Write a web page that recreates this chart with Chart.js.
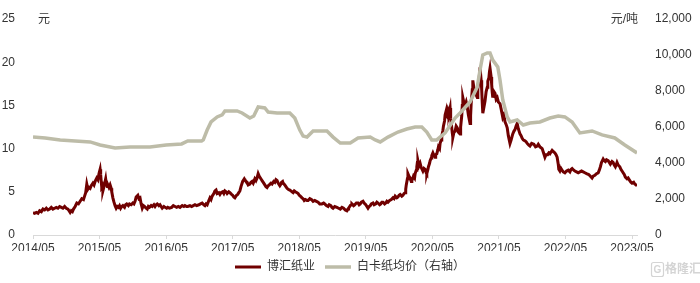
<!DOCTYPE html>
<html>
<head>
<meta charset="utf-8">
<script src="https://cdn.jsdelivr.net/npm/chart.js@4"></script>
<style>
  html, body { margin: 0; padding: 0; background: #fff; }
  #wrap { width: 700px; height: 283px; }
</style>
</head>
<body>
<div id="wrap"><canvas id="chart"></canvas></div>
<script>
// x is months since 2014/05
const xTickMonths = [0, 12, 24, 36, 48, 60, 72, 84, 96, 108];
const xTickLabels = ['2014/05', '2015/05', '2016/05', '2017/05', '2018/05', '2019/05', '2020/05', '2021/05', '2022/05', '2023/05'];

// 博汇纸业 share price (元)
const stockT = [
  0, 0.3, 0.6, 0.9, 1.2, 1.5, 1.8, 2.1, 2.4, 2.7, 3.0, 3.3, 3.6, 3.9, 4.2, 4.5, 4.8, 5.1, 5.4, 5.7, 6.0, 6.3, 6.5, 6.7, 6.9, 7.1, 7.3, 7.6, 7.9,
  8.2, 8.5, 8.8, 9.1, 9.3, 9.5, 9.7, 9.9, 10.1, 10.3, 10.5, 10.8, 11.0, 11.2, 11.5, 11.7, 11.9, 12.1, 12.2, 12.3, 12.4, 12.5, 12.6, 12.8, 12.9, 13.1, 13.2, 13.4, 13.5, 13.7, 13.9, 14.1, 14.2, 14.4, 14.6, 14.8, 15.0,
  15.2, 15.4, 15.6, 15.8, 16.0, 16.2, 16.5, 16.7, 16.9, 17.2, 17.4, 17.7, 18.0, 18.2, 18.4, 18.6, 18.9, 19.1, 19.3, 19.5, 19.7, 19.9, 20.1, 20.4, 20.6, 20.8, 21.0, 21.3, 21.5, 21.8,
  22.0, 22.2, 22.4, 22.7, 22.9, 23.1, 23.3, 23.6, 23.8, 24.1, 24.3, 24.6, 25.0, 25.3, 25.6, 25.9, 26.2, 26.5, 26.9, 27.2, 27.4, 27.7, 27.9, 28.3, 28.6, 28.9, 29.2, 29.5, 29.9, 30.2, 30.5, 30.8, 31.0, 31.2, 31.4,
  31.7, 31.9, 32.1, 32.3, 32.6, 32.8, 33.0, 33.2, 33.5, 33.7, 33.9, 34.2, 34.4, 34.6, 34.8, 35.0, 35.3, 35.5, 35.8, 36.0, 36.2, 36.4, 36.7, 36.9, 37.1, 37.3, 37.5, 37.6, 37.8, 37.9, 38.1, 38.2, 38.4, 38.6, 38.8,
  39.1, 39.3, 39.5, 39.7, 40.0, 40.2, 40.4, 40.6, 40.8, 41.0, 41.2, 41.3, 41.6, 41.8, 42.0, 42.2, 42.4, 42.6, 42.9, 43.1, 43.4, 43.6, 43.8, 44.0, 44.2, 44.5, 44.7, 44.8, 45.0, 45.1,
  45.4, 45.6, 45.8, 46.0, 46.3, 46.5, 46.7, 46.9, 47.1, 47.3, 47.6, 47.8, 48.0, 48.2, 48.5, 48.7, 48.9, 49.1, 49.4, 49.6, 49.9, 50.2, 50.5, 50.8, 51.1, 51.4, 51.7, 52.1, 52.4, 52.6,
  52.9, 53.2, 53.4, 53.7, 53.9, 54.1, 54.4, 54.8, 55.1, 55.4, 55.7, 56.0, 56.3, 56.6, 56.8, 56.9, 57.1, 57.2, 57.4, 57.5, 57.8, 58.0, 58.3, 58.6, 58.8, 59.0, 59.2, 59.5, 59.7, 60.0,
  60.2, 60.4, 60.6, 60.8, 61.0, 61.3, 61.5, 61.8, 62.0, 62.2, 62.5, 62.7, 62.9, 63.1, 63.4, 63.6, 63.8, 64.0, 64.3, 64.6, 64.9, 65.1, 65.3, 65.6, 65.8, 66.0, 66.2, 66.5, 66.7, 66.9, 67.1,
  67.2, 67.3, 67.5, 67.6, 67.8, 68.0, 68.2, 68.3, 68.5, 68.6, 68.8, 68.9, 69.1, 69.2, 69.3, 69.4, 69.6, 69.8, 70.0, 70.3, 70.5, 70.7, 70.9, 71.0, 71.2, 71.3, 71.5, 71.6, 71.8, 71.9, 72.1, 72.3, 72.5, 72.6, 72.8,
  73.0, 73.1, 73.3, 73.4, 73.6, 73.7, 73.9, 74.0, 74.2, 74.3, 74.5, 74.6, 74.8, 74.9, 75.0, 75.2, 75.3, 75.5, 75.6, 75.7, 75.9, 76.1, 76.3, 76.5, 76.7, 77.0,
  77.1, 77.3, 77.4, 77.5, 77.7, 77.9, 78.1, 78.3, 78.5, 78.8, 78.9, 79.0, 79.2, 79.3, 79.5, 79.7, 79.9, 80.1, 80.2, 80.4, 80.5, 80.6, 80.8, 80.9, 81.0, 81.1,
  81.3, 81.5, 81.7, 81.9, 82.0, 82.2, 82.3, 82.4, 82.6, 82.7, 82.8, 82.9, 83.1, 83.3, 83.5, 83.7, 83.9, 84.2, 84.4, 84.7, 84.9, 85.1, 85.3, 85.5, 85.7, 86.0,
  86.2, 86.5, 86.7, 86.9, 87.1, 87.3, 87.5, 87.8, 88.0, 88.2, 88.4, 88.7, 88.9, 89.1, 89.4, 89.6, 89.9, 90.3, 90.6, 90.9, 91.1, 91.4, 91.6, 91.8, 92.0, 92.3, 92.5, 92.8, 93.0, 93.2,
  93.4, 93.6, 93.9, 94.1, 94.3, 94.5, 94.7, 94.8, 95.0, 95.2, 95.4, 95.6, 95.9, 96.2, 96.5, 96.8, 97.0, 97.2, 97.5, 97.7, 98.0, 98.3, 98.6, 98.9, 99.2, 99.5, 99.8, 100.2, 100.5, 100.8,
  101.0, 101.3, 101.6, 101.9, 102.1, 102.3, 102.5, 102.8, 103.0, 103.2, 103.4, 103.7, 103.9, 104.1, 104.4, 104.6, 104.8, 105.0, 105.2, 105.3, 105.5, 105.8, 106.0, 106.2, 106.4, 106.6, 106.8, 107.1, 107.3, 107.6, 107.8, 108.0, 108.3, 108.5, 108.7, 108.9
];
const stockV = [
  2.6, 2.5, 2.6, 2.5, 2.8, 2.7, 3.0, 2.9, 3.1, 2.9, 3.0, 3.2, 3.0, 3.1, 3.2, 3.1, 3.3, 3.2, 3.1, 3.3, 3.1, 3.0, 2.8, 2.6, 2.8, 2.7, 3.0, 3.3, 3.7,
  3.6, 3.9, 4.2, 4.1, 4.5, 4.9, 5.9, 5.3, 5.5, 5.4, 5.7, 6.0, 5.8, 6.2, 6.6, 6.4, 7.1, 7.6, 7.0, 6.2, 5.5, 5.6, 5.1, 5.6, 5.9, 6.5, 6.0, 5.6, 5.8, 5.5, 5.8, 5.4, 5.0, 4.3, 3.8, 3.4, 3.1,
  3.3, 3.2, 3.4, 3.1, 3.3, 3.4, 3.2, 3.5, 3.6, 3.4, 3.6, 3.5, 3.7, 3.6, 3.9, 4.4, 4.6, 4.2, 4.3, 3.6, 3.1, 3.4, 3.3, 3.1, 3.0, 3.3, 3.2, 3.4, 3.3, 3.5,
  3.3, 3.5, 3.6, 3.4, 3.5, 3.3, 3.1, 3.3, 3.2, 3.1, 3.2, 3.1, 3.2, 3.4, 3.3, 3.2, 3.3, 3.2, 3.4, 3.3, 3.4, 3.3, 3.3, 3.4, 3.3, 3.4, 3.5, 3.4, 3.5, 3.6, 3.7, 3.5, 3.4, 3.6, 3.5,
  4.0, 4.3, 4.1, 4.5, 4.8, 5.1, 5.2, 4.8, 4.9, 4.7, 4.9, 5.0, 4.8, 5.1, 5.0, 4.8, 5.0, 4.9, 4.7, 4.6, 4.4, 4.3, 4.6, 4.7, 4.9, 5.1, 5.6, 5.8, 6.2, 6.3, 6.5, 6.4, 6.2, 6.1, 5.8,
  5.9, 6.1, 6.2, 6.0, 6.5, 6.3, 6.6, 7.1, 6.8, 6.6, 6.4, 6.3, 6.0, 5.8, 5.6, 5.5, 5.7, 5.8, 6.0, 5.9, 6.2, 6.1, 6.4, 6.3, 6.0, 5.7, 5.9, 6.1, 6.2, 6.0,
  5.8, 5.6, 5.4, 5.3, 5.2, 5.1, 5.0, 4.9, 5.1, 5.0, 4.9, 4.8, 4.6, 4.5, 4.3, 4.2, 4.0, 4.1, 4.0, 4.0, 4.2, 4.1, 3.9, 4.0, 3.9, 3.8, 3.6, 3.6, 3.7, 3.6,
  3.4, 3.3, 3.5, 3.4, 3.2, 3.1, 3.3, 3.2, 3.1, 3.0, 3.2, 3.1, 2.9, 2.8, 3.0, 3.1, 3.3, 3.4, 3.5, 3.6, 3.4, 3.5, 3.7, 3.7, 3.5, 3.6, 3.8, 3.9, 3.7, 3.5,
  3.3, 3.1, 3.3, 3.4, 3.6, 3.7, 3.5, 3.6, 3.8, 3.7, 3.5, 3.6, 3.8, 3.8, 3.6, 3.7, 3.9, 3.8, 4.0, 4.1, 4.3, 4.2, 4.5, 4.3, 4.4, 4.6, 4.7, 4.5, 4.6, 4.8, 4.9,
  5.3, 5.8, 6.5, 7.1, 6.8, 6.6, 6.2, 6.3, 6.6, 6.8, 6.6, 7.1, 7.5, 7.9, 8.4, 8.6, 8.0, 8.3, 7.8, 7.4, 7.7, 7.6, 7.2, 7.1, 7.6, 7.9, 8.3, 8.6, 8.9, 9.2, 9.5, 9.2, 9.0, 9.3, 9.4,
  9.9, 10.2, 10.0, 10.6, 11.0, 11.4, 12.1, 12.6, 13.2, 13.9, 14.4, 13.8, 13.6, 14.3, 14.1, 14.7, 13.5, 12.4, 11.8, 11.3, 11.9, 12.0, 12.6, 12.4, 11.9, 11.7,
  12.5, 13.8, 15.0, 15.9, 15.3, 15.0, 15.4, 14.8, 13.9, 12.9, 13.8, 15.2, 16.8, 17.9, 17.0, 16.5, 16.2, 15.9, 16.9, 17.8, 18.6, 19.4, 17.9, 16.8, 15.3, 14.1,
  14.8, 15.5, 16.6, 17.1, 17.8, 18.2, 18.9, 19.3, 18.3, 17.4, 16.5, 15.9, 16.6, 16.4, 15.7, 15.9, 15.4, 15.2, 14.6, 13.6, 13.9, 13.1, 12.8, 12.4, 11.5, 10.6,
  11.0, 11.7, 12.0, 12.2, 12.6, 12.9, 12.3, 11.7, 11.5, 11.2, 11.0, 10.9, 10.8, 10.6, 10.4, 10.3, 10.6, 10.5, 10.2, 10.3, 10.5, 10.2, 10.1, 10.0, 9.6, 9.0, 9.3, 9.3, 9.5, 9.4,
  9.6, 9.8, 9.6, 9.5, 9.3, 9.0, 8.2, 7.6, 7.4, 7.7, 7.5, 7.3, 7.2, 7.4, 7.5, 7.3, 7.6, 7.7, 7.5, 7.4, 7.3, 7.2, 7.3, 7.4, 7.3, 7.2, 7.1, 7.0, 6.8, 6.6,
  6.8, 6.9, 7.1, 7.2, 7.5, 7.9, 8.4, 8.8, 8.6, 8.5, 8.7, 8.6, 8.4, 8.2, 8.5, 8.4, 8.1, 7.9, 8.2, 8.4, 8.1, 7.9, 7.6, 7.4, 7.2, 7.0, 6.7, 6.5, 6.6, 6.3, 6.1, 6.0, 6.1, 5.9, 5.8, 5.7
];

// 白卡纸均价 (元/吨, right axis)
const paperT = [0, 2.2, 4.9, 7.6, 10.3, 12.1, 14.8, 17.5, 21.1, 24.0, 26.8, 27.9, 30.4, 30.7, 31.4, 32.1, 33.2, 34.1, 34.6, 36.8,
  37.7, 39.1, 39.8, 40.6, 41.8, 42.4, 44.0, 46.3, 47.2, 48.1, 48.7, 49.4, 50.5, 53.0, 54.1, 55.4, 57.2, 58.6, 60.8, 61.7,
  62.6, 64.0, 65.8, 67.4, 68.9, 70.1, 71.0, 71.9, 72.8, 74.3, 75.5, 76.1, 77.0, 78.8, 80.1, 80.6, 81.1, 81.9, 82.4, 82.9,
  83.8, 84.2, 84.7, 85.5, 86.0, 87.3, 88.4, 89.6, 91.4, 93.2, 94.7, 95.9, 97.2, 98.6, 100.8, 102.6, 104.9, 106.7, 108.9];
const paperV = [5450, 5390, 5280, 5220, 5170, 5000, 4830, 4890, 4890, 5000, 5060, 5220, 5220, 5280, 5830, 6280, 6560, 6670, 6890, 6890,
  6780, 6500, 6610, 7110, 7060, 6830, 6780, 6780, 6500, 5830, 5500, 5440, 5780, 5780, 5440, 5110, 5110, 5390, 5440, 5280,
  5170, 5440, 5720, 5890, 6000, 6000, 5720, 5280, 5280, 5670, 6220, 6500, 6780, 7390, 8220, 9170, 10000, 10110, 10110, 9720,
  9330, 8610, 7500, 6560, 6280, 6390, 6110, 6220, 6280, 6500, 6610, 6560, 6280, 5670, 5780, 5560, 5390, 5000, 4560];

const FONT = '"Liberation Sans", Arial, "Noto Sans CJK SC", sans-serif';
const TEXT = '#333333';

const unitLabels = {
  id: 'unitLabels',
  afterDraw(chart) {
    const ctx = chart.ctx;
    ctx.save();
    ctx.fillStyle = TEXT;
    ctx.font = '12px ' + FONT;
    ctx.textBaseline = 'middle';
    ctx.textAlign = 'left';
    ctx.fillText('元', 38, 20);
    ctx.textAlign = 'right';
    ctx.fillText('元/吨', 638, 20);

    // watermark
    ctx.strokeStyle = '#d4d4d4';
    ctx.fillStyle = '#d4d4d4';
    ctx.lineWidth = 1.2;
    ctx.beginPath();
    ctx.roundRect(651.5, 262.5, 12, 14, 2);
    ctx.stroke();
    ctx.font = 'bold 10px ' + FONT;
    ctx.textAlign = 'center';
    ctx.fillText('G', 657.5, 270);
    ctx.font = 'bold 12px ' + FONT;
    ctx.textAlign = 'left';
    ctx.fillText('格隆汇', 665, 270);
    ctx.restore();
  }
};

const ctx = document.getElementById('chart').getContext('2d');

const chart = new Chart(ctx, {
  type: 'line',
  data: {
    datasets: [
      {
        label: '博汇纸业',
        data: stockT.map((t, i) => ({ x: t, y: stockV[i] })),
        yAxisID: 'y',
        borderColor: '#700000',
        backgroundColor: '#700000',
        borderWidth: 3,
        pointRadius: 0,
        tension: 0,
        order: 2
      },
      {
        label: '白卡纸均价（右轴）',
        data: paperT.map((t, i) => ({ x: t, y: paperV[i] })),
        yAxisID: 'y1',
        borderColor: '#BDBCA8',
        backgroundColor: '#BDBCA8',
        borderWidth: 3.5,
        pointRadius: 0,
        tension: 0,
        order: 1
      }
    ]
  },
  options: {
    responsive: true,
    maintainAspectRatio: false,
    animation: false,
    layout: { padding: { top: 19, left: 0, right: 0, bottom: 0 } },
    scales: {
      x: {
        type: 'linear',
        min: 0,
        max: 108.9,
        afterBuildTicks: (scale) => {
          scale.ticks = xTickMonths.map(v => ({ value: v }));
        },
        afterFit: (scale) => { scale.height = 16; },
        ticks: {
          callback: (value, index) => xTickLabels[index],
          color: TEXT,
          font: { family: FONT, size: 12 },
          maxRotation: 0,
          autoSkip: false,
          padding: 2
        },
        grid: {
          display: true,
          drawOnChartArea: false,
          drawTicks: true,
          tickLength: 4,
          color: '#D9D9D9'
        },
        border: { display: true, color: '#D9D9D9' }
      },
      y: {
        position: 'left',
        min: 0,
        max: 25,
        afterFit: (scale) => { scale.width = 33; },
        ticks: {
          stepSize: 5,
          color: TEXT,
          font: { family: FONT, size: 12 },
          padding: 10
        },
        grid: { display: false },
        border: { display: false }
      },
      y1: {
        position: 'right',
        min: 0,
        max: 12000,
        afterFit: (scale) => { scale.width = 63; },
        ticks: {
          stepSize: 2000,
          color: TEXT,
          font: { family: FONT, size: 12 },
          padding: 10,
          callback: (value) => value.toLocaleString('en-US')
        },
        grid: { display: false },
        border: { display: false }
      }
    },
    plugins: {
      legend: {
        position: 'bottom',
        labels: {
          usePointStyle: true,
          pointStyle: 'line',
          pointStyleWidth: 26,
          color: TEXT,
          font: { family: FONT, size: 12 },
          padding: 10,
          sort: (a, b) => a.datasetIndex - b.datasetIndex
        }
      },
      tooltip: { enabled: false }
    }
  },
  plugins: [unitLabels]
});
</script>
</body>
</html>
